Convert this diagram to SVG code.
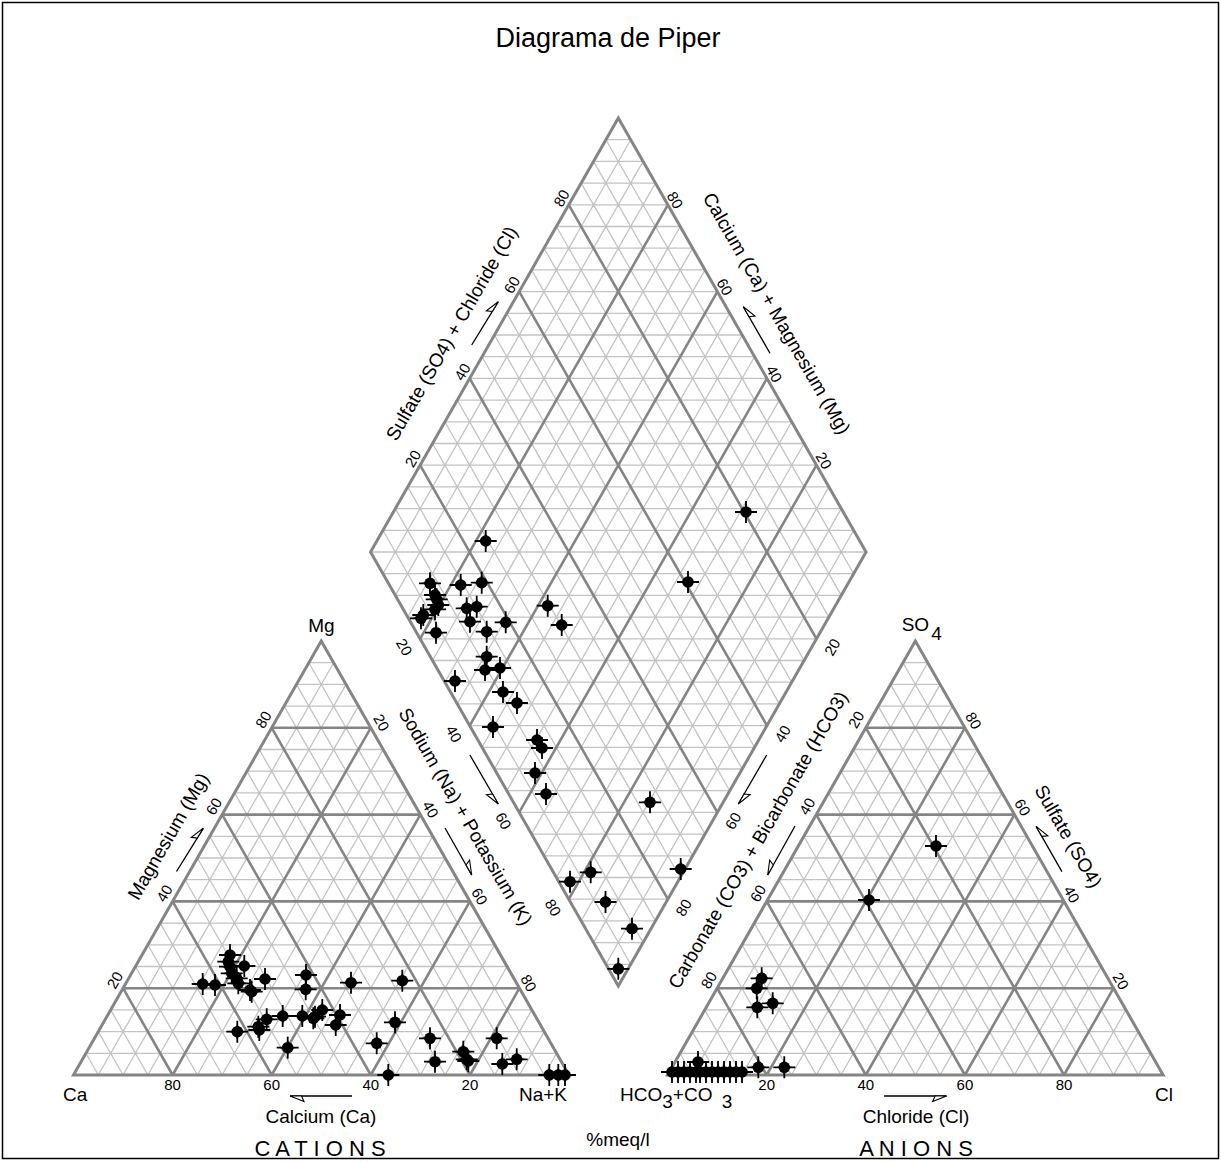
<svg xmlns="http://www.w3.org/2000/svg" width="1221" height="1162" viewBox="0 0 1221 1162">
<style>
.minor{stroke:#c3c3c3;stroke-width:1.3;fill:none;stroke-linejoin:bevel}
.major{stroke:#858585;stroke-width:2.6;fill:none;stroke-linejoin:bevel}
.border{stroke:#858585;stroke-width:3;fill:none}
text{font-family:"Liberation Sans",Arial,sans-serif;fill:#000}
.tk{font-size:15px;text-anchor:middle}
.lab{font-size:19px}
.mid{text-anchor:middle}
.big{font-size:22px;text-anchor:middle}
.arr{stroke:#000;stroke-width:1.3;fill:none}
.head{fill:#fff;stroke:#000;stroke-width:1.1;stroke-linejoin:miter}
</style>
<defs>
<marker id="hA" markerUnits="userSpaceOnUse" markerWidth="40" markerHeight="40" viewBox="-20 -20 40 40" refX="0" refY="0" orient="auto" overflow="visible"><path class="head" d="M0 0L-14 -5.5L-11.5 0Z"/></marker>
<marker id="hB" markerUnits="userSpaceOnUse" markerWidth="40" markerHeight="40" viewBox="-20 -20 40 40" refX="0" refY="0" orient="auto" overflow="visible"><path class="head" d="M0 0L-14 5.5L-11.5 0Z"/></marker>
<g id="pt"><path d="M-11 0H11M0-11V11" stroke="#000" stroke-width="1.8"/><circle r="5.8" fill="#000"/><path d="M0-8.5L2.8 0L0 8.5L-2.8 0ZM-8.5 0L0-2.8L8.5 0L0 2.8Z" fill="#000"/></g>
<g id="tgrid">
<path class="minor" d="M12.39-21.7H483.11M24.78-43.4H470.73M37.16-65.1H458.34M61.94-108.5H433.56M74.33-130.2H421.18M86.71-151.9H408.79M111.49-195.3H384.01M123.88-217H371.63M136.26-238.7H359.24M161.04-282.1H334.46M173.43-303.8H322.08M185.81-325.5H309.69M210.59-368.9H284.91M222.98-390.6H272.53M235.36-412.3H260.14M12.39-21.7L24.78 0L260.14-412.3M24.78-43.4L49.55 0L272.53-390.6M37.16-65.1L74.33 0L284.91-368.9M61.94-108.5L123.88 0L309.69-325.5M74.33-130.2L148.65 0L322.08-303.8M86.71-151.9L173.43 0L334.46-282.1M111.49-195.3L222.98 0L359.24-238.7M123.88-217L247.75 0L371.63-217M136.26-238.7L272.53 0L384.01-195.3M161.04-282.1L322.08 0L408.79-151.9M173.43-303.8L346.85 0L421.18-130.2M185.81-325.5L371.63 0L433.56-108.5M210.59-368.9L421.18 0L458.34-65.1M222.98-390.6L445.95 0L470.73-43.4M235.36-412.3L470.73 0L483.11-21.7"/>
<path class="major" d="M49.55-86.8H445.95M99.1-173.6H396.4M148.65-260.4H346.85M198.2-347.2H297.3M49.55-86.8L99.1 0L297.3-347.2M99.1-173.6L198.2 0L346.85-260.4M148.65-260.4L297.3 0L396.4-173.6M198.2-347.2L396.4 0L445.95-86.8"/>
<path class="border" d="M0 0H495.5L247.75-434Z"/>
</g>
</defs>
<rect x="2.5" y="2.5" width="1216" height="1156" fill="#fff" stroke="#000" stroke-width="1.5"/>
<text class="mid" x="608" y="47" font-size="27">Diagrama de Piper</text>

<g id="cation-triangle">
<use href="#tgrid" transform="translate(73.5 1075)"/>
</g>
<g id="anion-triangle">
<use href="#tgrid" transform="translate(667.6 1075)"/>
</g>
<g id="diamond" transform="translate(618.3 986)">
<path class="minor" d="M12.39-21.7l-247.75-434M24.78-43.4l-247.75-434M37.16-65.1l-247.75-434M61.94-108.5l-247.75-434M74.33-130.2l-247.75-434M86.71-151.9l-247.75-434M111.49-195.3l-247.75-434M123.88-217l-247.75-434M136.26-238.7l-247.75-434M161.04-282.1l-247.75-434M173.43-303.8l-247.75-434M185.81-325.5l-247.75-434M210.59-368.9l-247.75-434M222.98-390.6l-247.75-434M235.36-412.3l-247.75-434M-12.39-21.7l247.75-434M-24.78-43.4l247.75-434M-37.16-65.1l247.75-434M-61.94-108.5l247.75-434M-74.33-130.2l247.75-434M-86.71-151.9l247.75-434M-111.49-195.3l247.75-434M-123.88-217l247.75-434M-136.26-238.7l247.75-434M-161.04-282.1l247.75-434M-173.43-303.8l247.75-434M-185.81-325.5l247.75-434M-210.59-368.9l247.75-434M-222.98-390.6l247.75-434M-235.36-412.3l247.75-434M-12.39-21.7H12.39M-24.78-43.4H24.78M-37.16-65.1H37.16M-49.55-86.8H49.55M-61.94-108.5H61.94M-74.33-130.2H74.33M-86.71-151.9H86.71M-99.1-173.6H99.1M-111.49-195.3H111.49M-123.88-217H123.88M-136.26-238.7H136.26M-148.65-260.4H148.65M-161.04-282.1H161.04M-173.43-303.8H173.43M-185.81-325.5H185.81M-198.2-347.2H198.2M-210.59-368.9H210.59M-222.98-390.6H222.98M-235.36-412.3H235.36M-247.75-434H247.75M-235.36-455.7H235.36M-222.98-477.4H222.98M-210.59-499.1H210.59M-198.2-520.8H198.2M-185.81-542.5H185.81M-173.43-564.2H173.43M-161.04-585.9H161.04M-148.65-607.6H148.65M-136.26-629.3H136.26M-123.88-651H123.88M-111.49-672.7H111.49M-99.1-694.4H99.1M-86.71-716.1H86.71M-74.33-737.8H74.33M-61.94-759.5H61.94M-49.55-781.2H49.55M-37.16-802.9H37.16M-24.78-824.6H24.78M-12.39-846.3H12.39"/>
<path class="major" d="M49.55-86.8l-247.75-434M99.1-173.6l-247.75-434M148.65-260.4l-247.75-434M198.2-347.2l-247.75-434M-49.55-86.8l247.75-434M-99.1-173.6l247.75-434M-148.65-260.4l247.75-434M-198.2-347.2l247.75-434"/>
<path class="border" d="M0 0L247.75-434L0-868L-247.75-434Z"/>
</g>

<g id="tick-labels">
<text class="tk" x="172.6" y="1090">80</text><text class="tk" x="271.7" y="1090">60</text><text class="tk" x="370.8" y="1090">40</text><text class="tk" x="469.9" y="1090">20</text>
<text class="tk" transform="translate(115.05 980.2) rotate(-60)" dy="5">20</text>
<text class="tk" transform="translate(164.6 893.4) rotate(-60)" dy="5">40</text>
<text class="tk" transform="translate(214.15 806.6) rotate(-60)" dy="5">60</text>
<text class="tk" transform="translate(263.7 719.8) rotate(-60)" dy="5">80</text>
<text class="tk" transform="translate(528.45 983.2) rotate(60)" dy="5">80</text>
<text class="tk" transform="translate(479.35 896.4) rotate(60)" dy="5">60</text>
<text class="tk" transform="translate(430.25 809.6) rotate(60)" dy="5">40</text>
<text class="tk" transform="translate(381.15 722.8) rotate(60)" dy="5">20</text>
<text class="tk" x="766.7" y="1090">20</text><text class="tk" x="865.8" y="1090">40</text><text class="tk" x="964.9" y="1090">60</text><text class="tk" x="1064" y="1090">80</text>
<text class="tk" transform="translate(709.15 980.2) rotate(-60)" dy="5">80</text>
<text class="tk" transform="translate(758.25 893.4) rotate(-60)" dy="5">60</text>
<text class="tk" transform="translate(807.35 806.6) rotate(-60)" dy="5">40</text>
<text class="tk" transform="translate(856.45 719.8) rotate(-60)" dy="5">20</text>
<text class="tk" transform="translate(1120.55 981.2) rotate(60)" dy="5">20</text>
<text class="tk" transform="translate(1071.45 894.4) rotate(60)" dy="5">40</text>
<text class="tk" transform="translate(1022.35 807.6) rotate(60)" dy="5">60</text>
<text class="tk" transform="translate(973.25 720.8) rotate(60)" dy="5">80</text>
<text class="tk" transform="translate(413.1 458.7) rotate(-60)" dy="5">20</text>
<text class="tk" transform="translate(462.65 371.9) rotate(-60)" dy="5">40</text>
<text class="tk" transform="translate(512.2 285.1) rotate(-60)" dy="5">60</text>
<text class="tk" transform="translate(561.75 198.3) rotate(-60)" dy="5">80</text>
<text class="tk" transform="translate(674.85 200.3) rotate(60)" dy="5">80</text>
<text class="tk" transform="translate(724.4 287.1) rotate(60)" dy="5">60</text>
<text class="tk" transform="translate(773.95 373.9) rotate(60)" dy="5">40</text>
<text class="tk" transform="translate(823.5 460.7) rotate(60)" dy="5">20</text>
<text class="tk" transform="translate(404.1 647.3) rotate(60)" dy="5">20</text>
<text class="tk" transform="translate(453.65 734.1) rotate(60)" dy="5">40</text>
<text class="tk" transform="translate(503.2 820.9) rotate(60)" dy="5">60</text>
<text class="tk" transform="translate(552.75 907.7) rotate(60)" dy="5">80</text>
<text class="tk" transform="translate(832.5 647.3) rotate(-60)" dy="5">20</text>
<text class="tk" transform="translate(782.95 734.1) rotate(-60)" dy="5">40</text>
<text class="tk" transform="translate(733.4 820.9) rotate(-60)" dy="5">60</text>
<text class="tk" transform="translate(683.85 907.7) rotate(-60)" dy="5">80</text>
</g>

<g id="axis-labels">
<text class="lab mid" x="321.5" y="632">Mg</text>
<text class="lab" x="63" y="1101">Ca</text>
<text class="lab" x="567" y="1101" text-anchor="end">Na+K</text>
<text class="lab" x="620" y="1101">HCO<tspan dy="6.5">3</tspan><tspan dy="-6.5">+CO</tspan><tspan dx="4" dy="6.5"> 3</tspan></text>
<text class="lab" x="1155" y="1101">Cl</text>
<text class="lab" x="901.7" y="631">SO<tspan dx="2" dy="9">4</tspan></text>
<text class="lab mid" x="321" y="1123">Calcium (Ca)</text>
<text class="lab mid" x="916" y="1123">Chloride (Cl)</text>
<text class="big" x="320" y="1156">C A T I O N S</text>
<text class="big" x="916" y="1156">A N I O N S</text>
<text class="lab mid" x="618" y="1146">%meq/l</text>
<text class="lab mid" transform="translate(168.3 836.3) rotate(-60)" dy="6.5">Magnesium (Mg)</text>
<text class="lab mid" transform="translate(465.6 816.6) rotate(60)" dy="6.5">Sodium (Na) + Potassium (K)</text>
<text class="lab mid" transform="translate(451.7 333.3) rotate(-60)" dy="6.5">Sulfate (SO4) + Chloride (Cl)</text>
<text class="lab mid" transform="translate(776.7 313.3) rotate(60)" dy="6.5">Calcium (Ca) + Magnesium (Mg)</text>
<text class="lab mid" transform="translate(758 840) rotate(-60)" dy="6.5">Carbonate (CO3) + Bicarbonate (HCO3)</text>
<text class="lab mid" transform="translate(1068.3 836.3) rotate(60)" dy="6.5">Sulfate (SO4)</text>
</g>

<g id="connectors">
<path class="arr" d="M176.5 871.5L203.3 828.3" marker-end="url(#hA)"/>
<path class="arr" d="M445 828L471.7 875" marker-end="url(#hA)"/>
<path class="arr" d="M469.9 755L498.3 804" marker-end="url(#hB)"/>
<path class="arr" d="M766.7 755L738.3 804" marker-end="url(#hA)"/>
<path class="arr" d="M795 826L767.7 875" marker-end="url(#hB)"/>
<path class="arr" d="M1061.9 871.6L1036.1 826.4" marker-end="url(#hB)"/>
<path class="arr" d="M471.7 345L498.3 301.7" marker-end="url(#hA)"/>
<path class="arr" d="M770 353.3L743.3 306.7" marker-end="url(#hB)"/>
<path class="arr" d="M352 1096L290 1096" marker-end="url(#hA)"/>
<path class="arr" d="M884.1 1096L946.6 1096" marker-end="url(#hB)"/>
</g>

<g id="samples">
<use href="#pt" x="230" y="955"/><use href="#pt" x="228.3" y="961.7"/><use href="#pt" x="230" y="966.7"/><use href="#pt" x="231.7" y="973.3"/><use href="#pt" x="244.3" y="966"/><use href="#pt" x="202.7" y="984"/><use href="#pt" x="215" y="985"/><use href="#pt" x="236.7" y="978.3"/><use href="#pt" x="238.3" y="983.3"/><use href="#pt" x="250" y="990"/><use href="#pt" x="251.7" y="991.7"/><use href="#pt" x="265" y="979"/><use href="#pt" x="306" y="975"/><use href="#pt" x="305.7" y="989.3"/><use href="#pt" x="351" y="982.7"/><use href="#pt" x="237.3" y="1031.7"/><use href="#pt" x="258.3" y="1026.7"/><use href="#pt" x="259.3" y="1030"/><use href="#pt" x="266.7" y="1019.3"/><use href="#pt" x="282.7" y="1016"/><use href="#pt" x="302.3" y="1016"/><use href="#pt" x="313.3" y="1018.3"/><use href="#pt" x="322.3" y="1010"/><use href="#pt" x="315" y="1016.7"/><use href="#pt" x="340" y="1015"/><use href="#pt" x="335.7" y="1025"/><use href="#pt" x="287.7" y="1047.7"/><use href="#pt" x="402.3" y="980.7"/><use href="#pt" x="395" y="1022.3"/><use href="#pt" x="376.7" y="1043.3"/><use href="#pt" x="430" y="1038.3"/><use href="#pt" x="388.3" y="1075"/><use href="#pt" x="435" y="1061.7"/><use href="#pt" x="463.3" y="1051.7"/><use href="#pt" x="466.7" y="1059.3"/><use href="#pt" x="468.3" y="1061"/><use href="#pt" x="496.7" y="1038.3"/><use href="#pt" x="502.3" y="1064"/><use href="#pt" x="516.7" y="1059.3"/><use href="#pt" x="549.3" y="1075"/><use href="#pt" x="558.3" y="1075"/><use href="#pt" x="565" y="1075"/>
<use href="#pt" x="746" y="512"/><use href="#pt" x="688" y="582"/><use href="#pt" x="485.7" y="541"/><use href="#pt" x="430" y="583.3"/><use href="#pt" x="460.7" y="585"/><use href="#pt" x="481.7" y="582.7"/><use href="#pt" x="435" y="595"/><use href="#pt" x="436.7" y="599.3"/><use href="#pt" x="438.3" y="605"/><use href="#pt" x="435" y="609.3"/><use href="#pt" x="423.3" y="615"/><use href="#pt" x="421" y="618.3"/><use href="#pt" x="466.7" y="608.3"/><use href="#pt" x="476.7" y="606.7"/><use href="#pt" x="470" y="621.7"/><use href="#pt" x="505.7" y="622.3"/><use href="#pt" x="486.7" y="631.7"/><use href="#pt" x="436" y="632.7"/><use href="#pt" x="547.7" y="605.7"/><use href="#pt" x="561.7" y="625"/><use href="#pt" x="486.7" y="656.7"/><use href="#pt" x="485" y="670"/><use href="#pt" x="500" y="668"/><use href="#pt" x="455" y="681"/><use href="#pt" x="503" y="692"/><use href="#pt" x="517" y="703"/><use href="#pt" x="493" y="727"/><use href="#pt" x="537" y="740"/><use href="#pt" x="542" y="748"/><use href="#pt" x="535" y="773"/><use href="#pt" x="546" y="794"/><use href="#pt" x="650" y="802.3"/><use href="#pt" x="680.7" y="869"/><use href="#pt" x="570" y="881.7"/><use href="#pt" x="590.7" y="872.3"/><use href="#pt" x="605.5" y="902"/><use href="#pt" x="632" y="928.7"/><use href="#pt" x="618.3" y="968.8"/>
<use href="#pt" x="936" y="846"/><use href="#pt" x="869" y="900"/><use href="#pt" x="761.7" y="978.3"/><use href="#pt" x="756.7" y="988.3"/><use href="#pt" x="757.3" y="1007.3"/><use href="#pt" x="772.7" y="1003.3"/>
<use href="#pt" x="672" y="1072"/><use href="#pt" x="678" y="1072"/><use href="#pt" x="684" y="1072"/><use href="#pt" x="690" y="1072"/><use href="#pt" x="696" y="1072"/><use href="#pt" x="700" y="1072"/><use href="#pt" x="706" y="1072"/><use href="#pt" x="712" y="1072"/><use href="#pt" x="718" y="1072"/><use href="#pt" x="724" y="1072"/><use href="#pt" x="730" y="1072"/><use href="#pt" x="736" y="1072"/><use href="#pt" x="742" y="1072"/><use href="#pt" x="698" y="1062"/><use href="#pt" x="758.3" y="1067.3"/><use href="#pt" x="784.3" y="1067.3"/>
</g>
</svg>
